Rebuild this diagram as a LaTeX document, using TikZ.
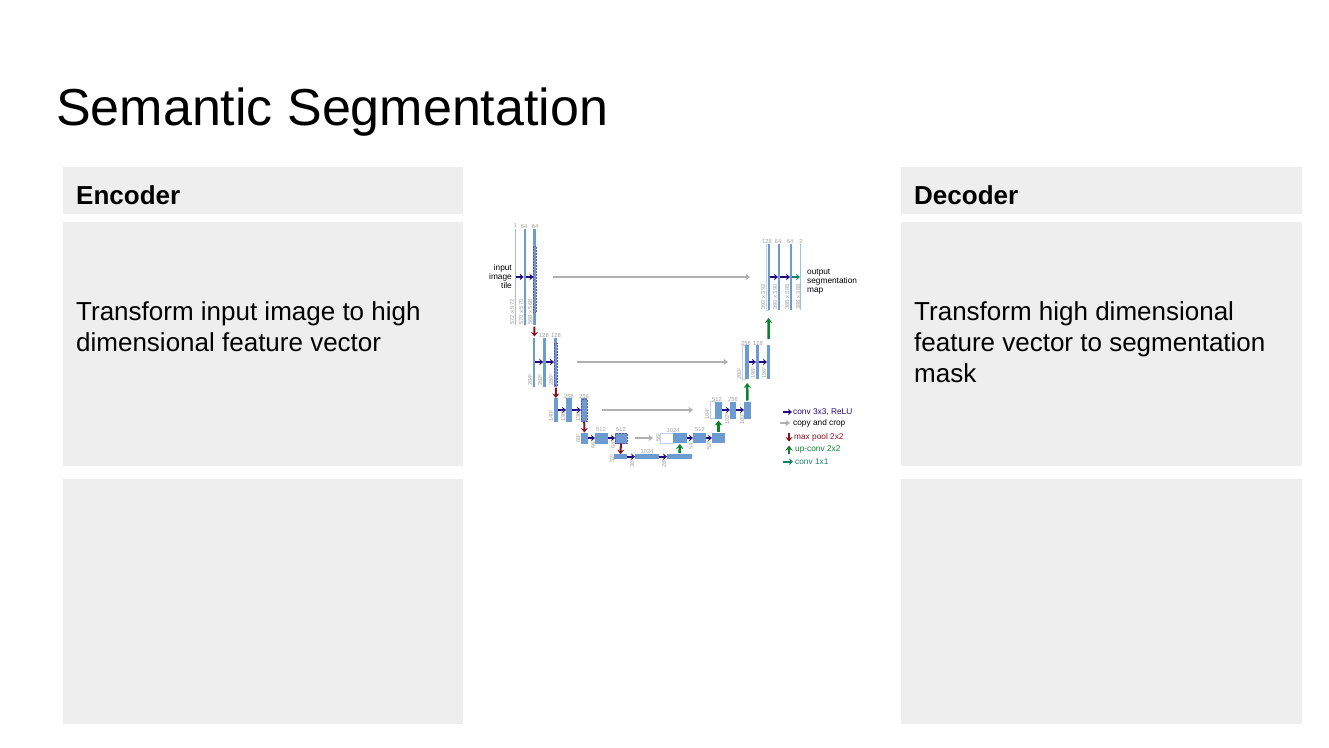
\documentclass[tikz,border=0pt]{standalone}
\usepackage{fontspec}
\setmainfont{Liberation Sans}
\usetikzlibrary{arrows.meta,positioning}
\definecolor{panelgray}{HTML}{EEEEEE}
\definecolor{barblue}{HTML}{6C9BD2}
\definecolor{convnavy}{HTML}{24087E}
\definecolor{poolred}{HTML}{8A1022}
\definecolor{upgreen}{HTML}{0E8030}
\definecolor{oneteal}{HTML}{12806F}
\definecolor{copygray}{HTML}{B0B0B0}
\definecolor{sizegray}{HTML}{A0A0A0}
\tikzset{>=Stealth}

\begin{document}
\begin{tikzpicture}[
    x=1pt, y=-1pt,
    panel/.style={fill=panelgray, inner sep=0pt, outer sep=0pt, minimum width=400pt},
    head/.style={font=\fontsize{26}{30}\selectfont\bfseries, anchor=base west, inner sep=0pt},
    body/.style={font=\fontsize{26}{31}\selectfont, anchor=north west, align=left, inner sep=0pt},
    bar/.style={fill=barblue, inner sep=0pt, outer sep=0pt},
    thinbar/.style={fill=barblue!65, inner sep=0pt, outer sep=0pt, minimum width=1pt},
    copybar/.style={draw=barblue!45, line width=0.5pt, fill=white, inner sep=0pt, outer sep=0pt},
    cropbox/.style={draw=convnavy!70, densely dotted, line width=0.5pt, inner sep=0pt},
    num/.style={font=\fontsize{5.8}{7}\selectfont, text=sizegray, inner sep=0pt},
    dim/.style={font=\fontsize{5.8}{7}\selectfont, text=sizegray, inner sep=0pt, rotate=90, anchor=west},
    tag/.style={font=\fontsize{8.3}{9.2}\selectfont, inner sep=0pt, anchor=west},
    conv/.style={->, convnavy, line width=1.8pt, >={Stealth[length=4pt,width=6.5pt]}},
    copyarrow/.style={->, copygray, line width=2pt, >={Stealth[length=4.5pt,width=6.5pt]}},
    pool/.style={->, poolred, line width=2pt, >={Stealth[length=4.5pt,width=7pt]}},
    upconv/.style={->, upgreen, line width=2.4pt, >={Stealth[length=5pt,width=7.5pt]}},
    oneconv/.style={->, oneteal, line width=1.8pt, >={Stealth[length=4pt,width=6.5pt]}}
  ]
    \useasboundingbox (0,0) rectangle (1329,747);
    \node[anchor=base west, inner sep=0pt, font=\fontsize{52}{60}\selectfont] (title) at (56,125) {Semantic Segmentation};

    \node[panel, minimum height=47pt] (enchead) at (263,190.5) {};
    \node[panel, minimum height=244pt] (encbody) at (263,344) {};
    \node[panel, minimum height=245pt] (encrest) at (263,601.5) {};
    \node[panel, minimum width=401pt, minimum height=47pt] (dechead) at (1101.5,190.5) {};
    \node[panel, minimum width=401pt, minimum height=244pt] (decbody) at (1101.5,344) {};
    \node[panel, minimum width=401pt, minimum height=245pt] (decrest) at (1101.5,601.5) {};
    \node[head] (enctitle) at (76,204) {Encoder};
    \node[head] (dectitle) at (914,204) {Decoder};
    \node[body] (enctext) at (76,301) {Transform input image to high\\dimensional feature vector};
    \node[body] (dectext) at (914,301) {Transform high dimensional\\feature vector to segmentation\\mask};

    \node[thinbar, minimum height=96pt] (a1) at (515.7,277) {};
    \node[bar, minimum width=2pt, minimum height=96pt] (a2) at (524.7,277) {};
    \node[bar, minimum width=2.5pt, minimum height=96pt] (a3) at (534.7,277) {};
    \node[cropbox, minimum width=2.5pt, minimum height=66pt] (a3crop) at (534.7,279) {};
    \node[bar, minimum width=2pt, minimum height=49pt] (b1) at (534.3,362) {};
    \node[bar, minimum width=3pt, minimum height=49pt] (b2) at (544.7,362) {};
    \node[bar, minimum width=3.5pt, minimum height=49pt] (b3) at (555.7,362) {};
    \node[cropbox, minimum width=3.5pt, minimum height=42pt] (b3crop) at (555.7,364) {};
    \node[bar, minimum width=3.5pt, minimum height=24pt] (c1) at (556,410) {};
    \node[bar, minimum width=6pt, minimum height=24pt] (c2) at (569,410) {};
    \node[bar, minimum width=6pt, minimum height=24pt] (c3) at (584,410) {};
    \node[cropbox, minimum width=6pt, minimum height=22pt] (c3crop) at (584,410) {};
    \node[bar, minimum width=7pt, minimum height=11pt] (d1) at (584.5,438) {};
    \node[bar, minimum width=13pt, minimum height=11pt] (d2) at (601.5,438) {};
    \node[bar, minimum width=12pt, minimum height=11pt] (d3) at (621,438) {};
    \node[cropbox, minimum width=12pt, minimum height=10pt] (d3crop) at (621,438) {};
    \node[bar, minimum width=13pt, minimum height=5pt] (e1) at (620.5,456.7) {};
    \node[bar, minimum width=24pt, minimum height=5pt] (e2) at (647,456.7) {};
    \node[bar, minimum width=25pt, minimum height=5pt] (e3) at (679.5,456.7) {};
    \node[copybar, minimum width=13pt, minimum height=10pt] (f0) at (666.5,438) {};
    \node[bar, minimum width=14pt, minimum height=10pt] (f1) at (680,438) {};
    \node[bar, minimum width=13pt, minimum height=10pt] (f2) at (699.5,438) {};
    \node[bar, minimum width=13pt, minimum height=10pt] (f3) at (718.5,438) {};
    \node[copybar, minimum width=5pt, minimum height=17pt] (g0) at (712.5,410) {};
    \node[bar, minimum width=7pt, minimum height=17pt] (g1) at (718.5,410) {};
    \node[bar, minimum width=6pt, minimum height=17pt] (g2) at (733,410) {};
    \node[bar, minimum width=7pt, minimum height=17pt] (g3) at (747.5,410) {};
    \node[copybar, minimum width=3pt, minimum height=34pt] (h0) at (743.5,362) {};
    \node[bar, minimum width=4pt, minimum height=34pt] (h1) at (747,362) {};
    \node[bar, minimum width=3.5pt, minimum height=34pt] (h2) at (757.7,362) {};
    \node[bar, minimum width=3pt, minimum height=34pt] (h3) at (768.5,362) {};
    \node[copybar, minimum width=2pt, minimum height=66pt] (k0) at (767,277) {};
    \node[bar, minimum width=1.6pt, minimum height=66pt] (k1) at (768.7,277) {};
    \node[bar, minimum width=2pt, minimum height=66pt] (k2) at (779,277) {};
    \node[bar, minimum width=2pt, minimum height=66pt] (k3) at (791,277) {};
    \node[thinbar, minimum height=66pt] (k4) at (800.5,277) {};

    \draw[conv] (a1) -- (a2);
    \draw[conv] (a2) -- (a3);
    \draw[conv] (b1) -- (b2);
    \draw[conv] (b2) -- (b3);
    \draw[conv] (c1) -- (c2);
    \draw[conv] (c2) -- (c3);
    \draw[conv] (d1) -- (d2);
    \draw[conv] (d2) -- (d3);
    \draw[conv] (e1) -- (e2);
    \draw[conv] (e2) -- (e3);
    \draw[conv] (f1) -- (f2);
    \draw[conv] (f2) -- (f3);
    \draw[conv] (g1) -- (g2);
    \draw[conv] (g2) -- (g3);
    \draw[conv] (h1) -- (h2);
    \draw[conv] (h2) -- (h3);
    \draw[conv] (k1) -- (k2);
    \draw[conv] (k2) -- (k3);
    \draw[oneconv] (k3) -- (k4);

    \draw[copyarrow, shorten <=17pt, shorten >=16pt] (a3) -- (k0);
    \draw[copyarrow, shorten <=20pt, shorten >=14pt] (b3) -- (h0);
    \draw[copyarrow, shorten <=15pt, shorten >=17pt] (c3) -- (g0);
    \draw[copyarrow, shorten <=8pt, shorten >=7pt] (d3) -- (f0);

    \draw[pool, shorten <=1.5pt, shorten >=1pt] (a3) -- (b1);
    \draw[pool, shorten <=1pt] (b3) -- (c1);
    \draw[pool] (c3) -- (d1);
    \draw[pool] (d3) -- (e1);
    \draw[upconv, shorten <=1pt, shorten >=1pt] (e3) -- (f1);
    \draw[upconv, shorten <=1pt, shorten >=2pt] (f3) -- (g1);
    \draw[upconv, shorten <=1pt, shorten >=4pt] (g3) -- (h1);
    \draw[upconv, shorten <=6pt, shorten >=8pt] (h3) -- (k1);

    \node[num] (na1) at (515.5,226) {1};
    \node[num] (na2) at (524,226) {64};
    \node[num] (na3) at (535,226) {64};
    \node[num] (nb2) at (544,335) {128};
    \node[num] (nb3) at (556,335) {128};
    \node[num] (nc2) at (569,396) {256};
    \node[num] (nc3) at (584,396) {256};
    \node[num] (nd2) at (601,429) {512};
    \node[num] (nd3) at (621,429) {512};
    \node[num] (ne2) at (647,451) {1024};
    \node[num] (nf1) at (673,430) {1024};
    \node[num] (nf2) at (700,429) {512};
    \node[num] (ng1) at (717,399) {512};
    \node[num] (ng2) at (733,399) {256};
    \node[num] (nh1) at (746,343) {256};
    \node[num] (nh2) at (758,343) {128};
    \node[num] (nk1) at (767,241) {128};
    \node[num] (nk2) at (778,241) {64};
    \node[num] (nk3) at (790,241) {64};
    \node[num] (nk4) at (801,241) {2};

    \node[dim] (sa1) at (512,325) {572 x 572};
    \node[dim] (sa2) at (521,325) {570 x 570};
    \node[dim] (sa3) at (530,325) {568 x 568};
    \node[dim] (sb1) at (530,386) {284²};
    \node[dim] (sb2) at (540,386) {282²};
    \node[dim] (sb3) at (551,386) {280²};
    \node[dim] (sc1) at (551,422) {140²};
    \node[dim] (sc2) at (563,422) {138²};
    \node[dim] (sc3) at (578,422) {136²};
    \node[dim] (sd1) at (578,443) {68²};
    \node[dim] (sd2) at (593,449) {66²};
    \node[dim] (sd3) at (613,449) {64²};
    \node[dim] (se1) at (612,463) {32²};
    \node[dim] (se2) at (632,468) {30²};
    \node[dim] (se3) at (664,468) {28²};
    \node[dim] (sf0) at (658,442) {56²};
    \node[dim] (sf1) at (691,450) {54²};
    \node[dim] (sf2) at (709,450) {52²};
    \node[dim] (sg0) at (707,420) {104²};
    \node[dim] (sg1) at (727,425) {102²};
    \node[dim] (sg2) at (742,425) {100²};
    \node[dim] (sh0) at (739,380) {200²};
    \node[dim] (sh1) at (753,379) {198²};
    \node[dim] (sh2) at (764,379) {196²};
    \node[dim] (sk0) at (763,310) {392 x 392};
    \node[dim] (sk1) at (775,310) {390 x 390};
    \node[dim] (sk2) at (787,310) {388 x 388};
    \node[dim] (sk3) at (798,310) {388 x 388};

    \node[tag, align=right, anchor=east] (input) at (512,276.5) {input\\image\\tile};
    \node[tag, align=left] (output) at (807,281.5) {output\\segmentation\\map};

    \node[tag, text=convnavy] (legconv) at (793,412) {conv 3x3, ReLU};
    \node[tag] (legcopy) at (793,423) {copy and crop};
    \node[tag, text=poolred] (legpool) at (794,437) {max pool 2x2};
    \node[tag, text=upgreen] (legup) at (795,449.5) {up-conv 2x2};
    \node[tag, text=oneteal] (legone) at (795,461.7) {conv 1x1};
    \coordinate (legconvs) at (783,412);
    \coordinate (legcopys) at (780,423);
    \coordinate (legpools) at (789,433);
    \coordinate (legpoole) at (789,441.5);
    \coordinate (legups) at (789,454);
    \coordinate (legupe) at (789,445.5);
    \coordinate (legones) at (783,461.7);
    \draw[conv, shorten >=1pt] (legconvs) -- (legconv);
    \draw[copyarrow, shorten >=3pt] (legcopys) -- (legcopy);
    \draw[pool] (legpools) -- (legpoole);
    \draw[upconv] (legups) -- (legupe);
    \draw[oneconv, shorten >=2pt] (legones) -- (legone);
  \end{tikzpicture}
\end{document}
